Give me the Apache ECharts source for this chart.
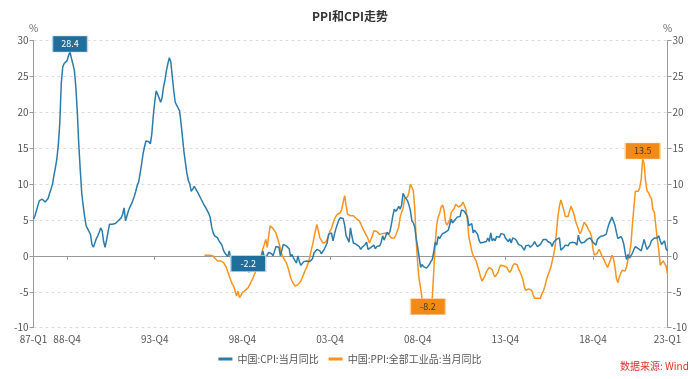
<!DOCTYPE html>
<html><head><meta charset="utf-8">
<script src="https://cdn.jsdelivr.net/npm/echarts@6/dist/echarts.min.js"></script>
<style>html,body{margin:0;padding:0;background:#fff}#c{width:700px;height:379px}</style>
</head><body><div id="c"></div>
<script>
// ---- data ----
const startMonth = [1987, 1];
const endMonth = [2023, 3];
const tickMonths = ['1987-01','1988-12','1993-12','1998-12','2003-12','2008-12','2013-12','2018-12','2023-03'];
const tickLabels = ['87-Q1','88-Q4','93-Q4','98-Q4','03-Q4','08-Q4','13-Q4','18-Q4','23-Q1'];

const cpi1987_1997 = [
  5.1,5.6,6.3,7.0,7.7,7.8,7.9,7.8,7.5,7.4,8.0,8.7,
  9.3,10.0,11.2,12.3,13.5,15.5,18.5,24.0,26.3,26.8,27.0,27.2,
  27.9,28.4,27.5,26.7,25.8,23.5,20.0,15.5,12.0,8.8,7.0,5.5,
  4.2,3.8,3.4,3.0,1.6,1.2,1.8,2.4,2.8,3.3,3.9,3.5,
  2.0,1.2,2.2,3.3,4.4,4.2,4.4,4.6,4.5,4.7,4.9,5.1,
  5.3,5.8,6.7,4.9,5.6,6.3,6.8,7.2,7.7,8.3,9.0,9.8,
  10.3,11.5,12.8,14.2,15.2,16.0,16.2,15.9,15.6,17.0,19.5,21.5,
  23.0,22.8,22.0,21.4,22.0,23.5,24.5,25.8,26.8,27.6,27.0,25.0,
  23.0,21.4,21.0,20.6,20.2,18.5,16.5,14.5,13.0,11.5,10.5,10.0,
  9.0,9.3,9.7,9.8,9.0,8.6,8.2,8.0,7.4,7.0,6.7,6.5,
  5.9,5.3,4.0,3.2,2.8,2.8,2.5,2.1,1.8,1.5,0.8,0.4
];
const cpi1998_2023 = [
  0.3,-0.1,0.7,-0.3,-1.0,-1.3,-1.4,-1.4,-1.5,-1.1,-1.2,-1.0,
  -1.2,-1.3,-1.8,-2.2,-2.2,-2.1,-1.4,-1.3,-0.8,-0.6,-0.9,-1.0,
  -0.2,0.7,-0.2,-0.3,0.1,0.5,0.5,0.3,0.0,0.0,1.3,1.5,
  1.2,0.0,0.8,1.6,1.7,1.4,1.5,1.0,-0.1,0.2,-0.3,-0.3,
  -1.0,0.0,-0.8,-1.3,-1.1,-0.8,-0.9,-0.7,-0.7,-0.8,-0.7,-0.4,
  0.4,0.2,0.9,1.0,0.7,0.3,0.5,0.9,1.1,1.8,3.0,3.2,
  3.2,2.1,3.0,3.8,4.4,5.0,5.3,5.3,5.2,4.3,2.8,2.4,
  1.9,3.9,2.7,1.8,1.8,1.6,1.8,1.3,0.9,1.2,1.3,1.6,
  1.9,0.9,0.8,1.2,1.4,1.5,1.0,1.3,1.5,1.4,1.9,2.8,
  2.2,2.7,3.3,3.0,3.4,4.4,5.6,6.5,6.2,6.5,6.9,6.5,
  7.1,8.7,8.3,8.5,7.7,7.1,6.3,4.9,4.6,4.0,2.4,1.2,
  1.0,-1.6,-1.2,-1.5,-1.4,-1.7,-1.8,-1.2,-0.8,-0.5,0.6,1.9,
  1.5,2.7,2.4,2.8,3.1,2.9,3.3,3.5,3.6,4.4,5.1,4.6,
  4.9,4.9,5.4,5.3,5.5,6.4,6.5,6.2,6.1,5.5,4.2,4.1,
  4.5,3.2,3.6,3.4,3.0,2.2,1.8,2.0,1.9,1.7,2.0,2.5,
  2.0,3.2,2.1,2.4,2.1,2.7,2.7,2.6,3.1,3.2,3.0,2.5,
  2.5,2.0,2.4,1.8,2.5,2.3,2.3,2.0,1.6,1.6,1.4,1.5,
  0.8,1.4,1.4,1.5,1.2,1.4,1.6,2.0,1.6,1.3,1.5,1.6,
  1.8,2.3,2.3,2.3,2.0,1.9,1.8,1.3,1.9,2.1,2.3,2.1,
  2.5,0.8,0.9,1.2,1.5,1.5,1.4,1.8,1.6,1.9,1.7,1.8,
  1.5,2.9,2.1,1.8,1.8,1.9,2.1,2.3,2.5,2.5,2.2,1.9,
  1.7,1.5,2.3,2.5,2.7,2.7,2.8,2.8,3.0,3.8,4.5,4.5,
  5.4,5.2,4.3,3.3,2.4,2.5,2.7,2.4,1.7,0.5,-0.5,0.2,
  -0.3,-0.2,0.4,0.9,1.3,1.1,1.0,0.8,0.7,1.5,2.3,1.5,
  0.9,0.9,1.5,2.1,2.1,2.5,2.7,2.5,2.8,2.1,1.6,1.8,
  2.1,1.0,0.7
];
const ppiStart = '1996-10';
const ppi1996_2023 = [
  0.1,0.2,0.1,
  0.2,0.1,0.1,0.0,-0.3,-0.5,-0.7,-0.8,-0.7,-0.8,-0.9,-1.1,
  -1.6,-2.2,-2.8,-3.4,-3.9,-4.2,-4.4,-5.6,-4.9,-5.8,-5.5,-5.1,
  -5.0,-4.8,-4.6,-4.4,-4.0,-3.6,-3.2,-2.7,-2.2,-1.6,-1.0,-0.3,
  0.2,1.0,1.6,2.3,1.2,2.8,4.2,4.0,3.8,3.7,3.2,2.5,
  1.8,1.0,0.2,-0.2,-0.6,-0.9,-1.5,-2.2,-3.0,-3.5,-3.9,-4.2,
  -4.2,-4.0,-3.8,-3.5,-3.0,-2.5,-2.0,-1.6,-1.0,-0.3,0.7,1.5,
  2.5,3.5,4.4,3.5,2.5,2.2,1.8,1.8,1.9,2.3,2.8,3.5,
  3.8,4.5,5.1,5.5,5.8,6.0,6.0,6.5,7.5,8.4,7.0,5.8,
  5.6,5.6,5.5,5.6,5.6,5.2,5.0,4.9,4.5,4.0,3.6,3.2,
  2.8,2.4,1.8,2.0,2.8,3.5,3.5,3.4,3.2,3.0,3.0,3.1,
  3.2,3.2,3.2,3.0,2.8,2.5,2.3,2.5,2.9,3.0,4.0,5.4,
  6.1,6.6,8.0,8.1,8.2,8.8,10.0,10.1,9.1,6.6,2.0,-1.1,
  -3.3,-4.5,-6.0,-6.6,-7.2,-7.8,-8.2,-7.9,-7.0,-5.8,-2.1,1.7,
  4.3,5.4,5.9,6.8,7.1,6.4,4.8,4.3,4.3,5.0,6.1,5.9,
  6.6,7.2,7.3,6.8,6.8,7.1,7.5,7.3,6.5,5.0,2.7,1.7,
  0.7,0.0,-0.3,-0.7,-1.4,-2.1,-2.9,-3.5,-3.6,-2.8,-2.2,-1.9,
  -1.6,-1.6,-1.9,-2.6,-2.9,-2.7,-2.3,-1.6,-1.3,-1.5,-1.4,-1.4,
  -1.6,-2.0,-2.3,-2.0,-1.4,-1.1,-0.9,-1.2,-1.8,-2.2,-2.7,-3.3,
  -4.3,-4.8,-4.6,-4.6,-4.6,-4.8,-5.4,-5.9,-5.9,-5.9,-5.9,-5.9,
  -5.3,-4.9,-4.3,-3.4,-2.8,-2.6,-1.7,-0.8,0.1,1.2,3.3,5.5,
  6.9,7.8,7.6,6.4,5.5,5.5,5.5,6.3,6.9,6.9,5.8,4.9,
  4.3,3.7,3.1,3.4,4.1,4.7,4.6,4.1,3.6,3.3,2.7,0.9,
  0.1,0.1,0.4,0.9,0.6,0.0,-0.3,-0.8,-1.2,-1.6,-1.4,-0.5,
  0.1,-0.4,-1.5,-3.1,-3.7,-3.0,-2.4,-2.0,-2.1,-2.1,-1.5,-0.4,
  0.3,1.7,4.4,6.8,9.0,8.8,9.0,9.5,10.7,13.5,12.9,10.3,
  9.1,8.8,8.3,8.0,6.4,6.1,4.2,2.3,0.9,-1.3,-1.3,-0.7,
  -0.8,-1.4,-2.5
];
const seriesNames = ['中国:CPI:当月同比', '中国:PPI:全部工业品:当月同比'];

// ---- build ----
const months = [];
for (let y = startMonth[0], m = startMonth[1]; y < endMonth[0] || (y === endMonth[0] && m <= endMonth[1]); ) {
  months.push(y + '-' + String(m).padStart(2, '0'));
  m++; if (m > 12) { m = 1; y++; }
}
const cpi = cpi1987_1997.concat(cpi1998_2023);
const ppiOffset = months.indexOf(ppiStart);
const ppi = months.map((_, i) => (i >= ppiOffset && i - ppiOffset < ppi1996_2023.length) ? ppi1996_2023[i - ppiOffset] : null);
const tickIdx = {};
tickMonths.forEach((t, k) => { tickIdx[months.indexOf(t)] = tickLabels[k]; });
const showTick = (idx) => tickIdx.hasOwnProperty(idx);

const FONT = '"Noto Sans CJK SC","Noto Sans",sans-serif';
const CPI_C = '#2b7bab', PPI_C = '#f7931e';

const yAxisBase = {
  type: 'value', min: -10, max: 30, interval: 5,
  name: '%', nameLocation: 'end', nameGap: 7,
  nameTextStyle: { color: '#666', fontSize: 10, fontFamily: FONT, align: 'center' },
  axisLine: { show: true, lineStyle: { color: '#999', width: 1 } },
  axisTick: { show: true, length: 4, lineStyle: { color: '#999' } },
  axisLabel: { color: '#555', fontSize: 10, fontFamily: FONT, margin: 5 },
};

const chart = echarts.init(document.getElementById('c'), null, { renderer: 'canvas' });
chart.setOption({
  animation: false,
  backgroundColor: '#fff',
  title: {
    text: 'PPI和CPI走势', left: 'center', top: 5,
    textStyle: { fontSize: 12, fontWeight: 'bold', color: '#333', fontFamily: FONT }
  },
  legend: {
    data: seriesNames, left: 'center', top: 349, icon: 'rect',
    itemWidth: 14, itemHeight: 3, itemGap: 10,
    textStyle: { fontSize: 10, color: '#555', fontFamily: FONT }
  },
  grid: { left: 33.5, right: 32.5, top: 40.5, bottom: 51.3, containLabel: false },
  xAxis: {
    type: 'category', data: months, boundaryGap: false,
    axisLine: { lineStyle: { color: '#999' } },
    axisTick: { show: true, length: 4, interval: (i) => showTick(i), lineStyle: { color: '#999' } },
    axisLabel: {
      interval: (i) => showTick(i), color: '#555', fontSize: 10, fontFamily: FONT, margin: 7,
      formatter: (v, i) => tickIdx[months.indexOf(v)] || ''
    },
    splitLine: { show: false }
  },
  yAxis: [
    Object.assign({}, yAxisBase, { position: 'left',
      splitLine: { show: true, lineStyle: { type: [3, 3], color: '#dcdcdc' } } }),
    Object.assign({}, yAxisBase, { position: 'right', splitLine: { show: false } })
  ],
  series: [
    {
      name: seriesNames[0], type: 'line', data: cpi, yAxisIndex: 0,
      showSymbol: false, symbol: 'none', lineStyle: { color: CPI_C, width: 1.5 }, itemStyle: { color: CPI_C },
      markPoint: {
        symbol: 'rect', symbolSize: [35, 16], symbolOffset: [0, -8],
        itemStyle: { color: '#1f6e9c', borderColor: '#b8d4e6', borderWidth: 1 },
        label: { color: '#fff', fontSize: 9, fontFamily: FONT, formatter: p => Number(p.value).toFixed(1) },
        data: [{ type: 'max' }, { type: 'min' }]
      },
      z: 3
    },
    {
      name: seriesNames[1], type: 'line', data: ppi, yAxisIndex: 0, connectNulls: false,
      showSymbol: false, symbol: 'none', lineStyle: { color: PPI_C, width: 1.5 }, itemStyle: { color: PPI_C },
      markPoint: {
        symbol: 'rect', symbolSize: [35, 16], symbolOffset: [0, -8],
        itemStyle: { color: '#f28a17', borderColor: '#fbd3a3', borderWidth: 1 },
        label: { color: '#4a3620', fontSize: 9, fontFamily: FONT, formatter: p => Number(p.value).toFixed(1) },
        data: [{ type: 'max' }, { type: 'min' }]
      },
      z: 2
    }
  ],
  graphic: [{
    type: 'text', left: 620, top: 361,
    style: { text: '数据来源: Wind', fill: '#e0302a', fontSize: 10, fontFamily: FONT }
  }]
});
</script>
</body></html>
